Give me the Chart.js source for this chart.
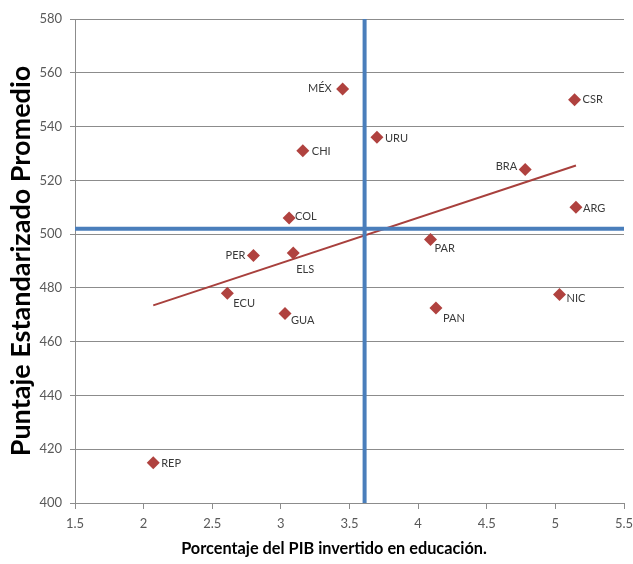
<!DOCTYPE html>
<html>
<head>
<meta charset="utf-8">
<script src="https://cdn.jsdelivr.net/npm/chart.js@4"></script>
<style>
  body { margin: 0; background: #fff; }
  #wrap { width: 633px; height: 564px; position: relative; }
</style>
</head>
<body>
<div id="wrap"><canvas id="chart"></canvas></div>
<script>
// country codes and values
const countries = ["MÉX", "CSR", "URU", "CHI", "BRA", "ARG", "COL", "PAR", "PER", "ELS", "ECU", "GUA", "REP", "PAN", "NIC"];
const gdpPct = [3.45, 5.14, 3.70, 3.16, 4.78, 5.15, 3.06, 4.09, 2.80, 3.09, 2.61, 3.03, 2.07, 4.13, 5.03];
const scores = [554, 550, 536, 531, 524, 510, 506, 498, 492, 493, 478, 470.5, 415, 472.5, 477.5];

// trend line end points
const trendX = [2.07, 5.15];
const trendY = [473.5, 525.5];

// blue reference lines (averages)
const meanX = 3.61;
const meanY = 502;

const xRange = [1.5, 5.5];
const yRange = [400, 580];

const xTitle = "Porcentaje del PIB invertido en educación.";
const yTitle = "Puntaje Estandarizado Promedio";

// where each country label sits next to its marker
const labelPos = {
  "MÉX": [-11, 0, "right"], "CSR": [8, 0, "left"], "URU": [8, 1.5, "left"],
  "CHI": [9, 0.5, "left"], "BRA": [-8, -3, "right"], "ARG": [7, 1, "left"],
  "COL": [6, -2, "left"], "PAR": [4, 9, "left"], "PER": [-8, 0, "right"],
  "ELS": [3, 17, "left"], "ECU": [6, 10, "left"], "GUA": [6, 7, "left"],
  "REP": [8, 1, "left"], "PAN": [7, 10, "left"], "NIC": [7, 4, "left"]
};

const pointData = gdpPct.map((x, i) => ({ x: x, y: scores[i] }));
const trendData = trendX.map((x, i) => ({ x: x, y: trendY[i] }));

const gridColor = "#8c8c8c";
const blue = "#4a7ebb";
const red = "#b0423f";

// draws the country labels and the x axis title
const labelPlugin = {
  id: "labels",
  afterDatasetsDraw(chart) {
    const ctx = chart.ctx;
    const meta = chart.getDatasetMeta(0);
    ctx.save();
    ctx.font = "11px Lato";
    ctx.fillStyle = "#3a3a3a";
    ctx.textBaseline = "middle";
    meta.data.forEach((pt, i) => {
      const p = labelPos[countries[i]];
      ctx.textAlign = p[2];
      ctx.fillText(countries[i], pt.x + p[0], pt.y + p[1]);
    });

    ctx.font = "bold 16.3px Lato";
    ctx.fillStyle = "#000";
    ctx.textAlign = "center";
    ctx.fillText(xTitle, 334, 549);
    ctx.restore();
  }
};

new Chart(document.getElementById("chart"), {
  type: "scatter",
  data: {
    datasets: [
      {
        data: pointData,
        pointStyle: "rectRot",
        pointRadius: 6.5,
        backgroundColor: red,
        borderColor: red,
        borderWidth: 0,
        order: 0
      },
      {
        type: "line",
        data: trendData,
        borderColor: "#a8403d",
        borderWidth: 2,
        pointRadius: 0,
        order: 2
      },
      {
        type: "line",
        data: [{ x: meanX, y: yRange[0] }, { x: meanX, y: yRange[1] }],
        borderColor: blue,
        borderWidth: 4,
        pointRadius: 0,
        order: 1
      },
      {
        type: "line",
        data: [{ x: xRange[0], y: meanY }, { x: xRange[1], y: meanY }],
        borderColor: blue,
        borderWidth: 4,
        pointRadius: 0,
        order: 1
      }
    ]
  },
  options: {
    responsive: true,
    maintainAspectRatio: false,
    animation: false,
    layout: { padding: { top: 19, right: 9, left: 0, bottom: 0 } },
    plugins: { legend: { display: false }, tooltip: { enabled: false } },
    scales: {
      x: {
        type: "linear",
        min: xRange[0],
        max: xRange[1],
        afterFit: (s) => { s.height = 61; s.paddingRight = 0; s.paddingLeft = 0; },
        ticks: {
          stepSize: 0.5,
          padding: 7,
          color: "#595959",
          font: { family: "Lato", size: 13 },
          callback: (v) => String(v)
        },
        grid: { drawOnChartArea: false, drawTicks: true, tickLength: 6, color: gridColor },
        border: { display: true, color: gridColor, width: 1 }
      },
      y: {
        min: yRange[0],
        max: yRange[1],
        afterFit: (s) => { s.width = 75; },
        ticks: {
          stepSize: 20,
          padding: 8,
          color: "#595959",
          font: { family: "Lato", size: 13 }
        },
        grid: { color: gridColor, lineWidth: 1, tickLength: 5 },
        border: { display: true, color: gridColor, width: 1 },
        title: {
          display: true,
          text: yTitle,
          color: "#000",
          font: { family: "Lato", size: 27, weight: "bold" },
          padding: { top: 5 }
        }
      }
    }
  },
  plugins: [labelPlugin]
});
</script>
</body>
</html>
